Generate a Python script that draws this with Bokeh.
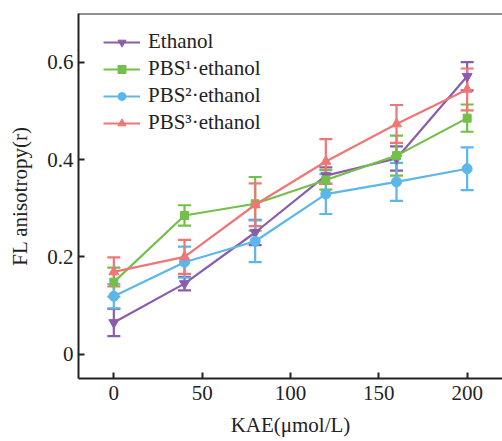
from bokeh.plotting import figure
from bokeh.models import ColumnDataSource, Whisker, TeeHead, Legend, LegendItem, FixedTicker, Span
from bokeh.embed import file_html
from bokeh.resources import INLINE

x = [0, 40, 80, 120, 160, 200]

names = ["Ethanol", "PBS\u00b9\u00b7ethanol", "PBS\u00b2\u00b7ethanol", "PBS\u00b3\u00b7ethanol"]
ethanol = [0.065, 0.145, 0.250, 0.367, 0.402, 0.571]
ethanol_err = [0.028, 0.014, 0.026, 0.017, 0.025, 0.029]
pbs1 = [0.148, 0.285, 0.309, 0.358, 0.408, 0.485]
pbs1_err = [0.030, 0.021, 0.055, 0.020, 0.041, 0.028]
pbs2 = [0.119, 0.189, 0.232, 0.329, 0.354, 0.381]
pbs2_err = [0.025, 0.032, 0.043, 0.041, 0.039, 0.044]
pbs3 = [0.169, 0.200, 0.307, 0.396, 0.473, 0.544]
pbs3_err = [0.030, 0.035, 0.044, 0.046, 0.039, 0.043]

colors = ["#8a5cae", "#72c04a", "#5cb6ea", "#f07676"]
markers = ["inverted_triangle", "square", "circle", "triangle"]
series = [(ethanol, ethanol_err), (pbs1, pbs1_err), (pbs2, pbs2_err), (pbs3, pbs3_err)]

FONT = "Liberation Serif"
FS = "21px"

p = figure(width=502, height=441, output_backend="svg", toolbar_location=None,
           x_range=(-20, 220), y_range=(-0.05, 0.7),
           min_border_left=78, min_border_right=0, min_border_top=13, min_border_bottom=63)
p.outline_line_color = None
p.background_fill_color = "white"
p.border_fill_color = "white"
p.grid.visible = False

items = []
for (vals, errs), c, m, n in zip(series, colors, markers, names):
    lo = [v - e for v, e in zip(vals, errs)]
    hi = [v + e for v, e in zip(vals, errs)]
    src = ColumnDataSource(dict(x=x, y=vals, lo=lo, hi=hi))
    w = Whisker(source=src, base="x", lower="lo", upper="hi", line_color=c, line_width=2.2,
                upper_head=TeeHead(size=13, line_color=c, line_width=2.2),
                lower_head=TeeHead(size=13, line_color=c, line_width=2.2))
    p.add_layout(w)
    r1 = p.line("x", "y", source=src, line_color=c, line_width=2.2)
    r2 = p.scatter("x", "y", source=src, marker=m, size=10 if m != "square" else 8,
                   fill_color=c, line_color=c)
    items.append(LegendItem(label=n, renderers=[r1, r2]))

legend = Legend(items=items, border_line_color=None,
                background_fill_alpha=0, label_text_font=FONT, label_text_font_size=FS,
                label_text_color="#222222", glyph_width=37, glyph_height=20,
                spacing=2, padding=0, margin=0, label_standoff=8)
legend.location = (25, 243)
p.add_layout(legend, "center")

for ax in [p.xaxis[0], p.yaxis[0]]:
    ax.axis_line_width = 2
    ax.axis_line_color = "#222222"
    ax.major_tick_in = 6
    ax.major_tick_out = 0
    ax.major_tick_line_width = 2
    ax.major_tick_line_color = "#222222"
    ax.minor_tick_line_color = None
    ax.major_label_text_font = FONT
    ax.major_label_text_font_size = FS
    ax.major_label_text_color = "#222222"
    ax.axis_label_text_font = FONT
    ax.axis_label_text_font_size = FS
    ax.axis_label_text_font_style = "normal"
    ax.axis_label_text_color = "#222222"

p.xaxis.ticker = FixedTicker(ticks=[0, 50, 100, 150, 200])
p.yaxis.ticker = FixedTicker(ticks=[0, 0.2, 0.4, 0.6])
p.yaxis.major_label_overrides = {0: "0"}
p.xaxis.axis_label = "KAE(\u03bcmol/L)"
p.yaxis.axis_label = "FL anisotropy(r)"
p.xaxis.major_label_standoff = 7
p.yaxis.major_label_standoff = 5
p.xaxis.axis_label_standoff = 10
p.yaxis.axis_label_standoff = 12

top = Span(location=0.7, dimension="width", line_color="#222222", line_width=2)
p.add_layout(top)

open("out.html", "w").write(file_html(p, INLINE))
